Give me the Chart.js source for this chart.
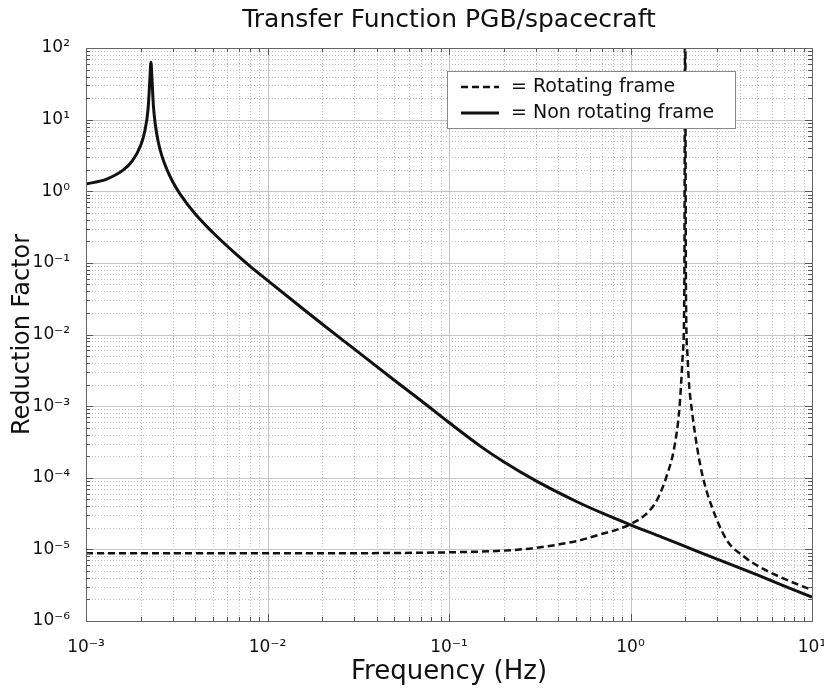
<!DOCTYPE html>
<html>
<head>
<meta charset="utf-8">
<script src="https://cdn.jsdelivr.net/npm/chart.js@4"></script>
<style>
  html, body { margin: 0; padding: 0; background: #fff; }
</style>
</head>
<body>
<canvas id="tfChart" width="824" height="689"></canvas>
<script>
// Non rotating frame (solid line)
const freqNonRot = [0.001, 0.0013, 0.0016, 0.0018, 0.002, 0.0021, 0.0022, 0.00225, 0.00228, 0.00231,
    0.00235, 0.0024, 0.0025, 0.0026, 0.0028, 0.003, 0.0033, 0.004, 0.005, 0.0065,
    0.008, 0.01, 0.015, 0.02, 0.03, 0.05, 0.07, 0.1, 0.15, 0.2,
    0.3, 0.5, 0.7, 1.0, 1.5, 2.0, 3.0, 5.0, 7.0, 10];
const valNonRot = [1.26, 1.48, 1.97, 2.65, 4.35, 6.6, 14.5, 38, 63, 37,
    16, 9.2, 4.9, 3.3, 1.97, 1.37, 0.91, 0.48, 0.265, 0.142,
    0.09, 0.057, 0.025, 0.014, 0.0063, 0.0023, 0.0012, 0.00059, 0.000272, 0.000167,
    0.000091, 0.000047, 0.000032, 0.000022, 0.0000147, 0.000011, 0.0000073, 0.0000044, 0.0000031, 0.00000215];

// Rotating frame (dashed line)
const freqRot = [0.001, 0.01, 0.05, 0.1, 0.2, 0.3, 0.5, 0.7, 0.85, 1.0,
    1.2, 1.4, 1.6, 1.74, 1.86, 1.94, 1.98, 2.0, 2.02, 2.06,
    2.1, 2.19, 2.35, 2.51, 2.8, 3.39, 4.2, 5.13, 7.0, 10];
const valRot = [8.8e-6, 8.8e-6, 8.9e-6, 9.1e-6, 9.6e-6, 1.05e-5, 1.3e-5, 1.65e-5, 1.9e-5, 2.25e-5,
    3.0e-5, 4.9e-5, 1.15e-4, 2.6e-4, 9.3e-4, 5.2e-3, 0.047, 500, 0.047, 5.2e-3,
    2.1e-3, 7.9e-4, 2.3e-4, 1.0e-4, 4.0e-5, 1.35e-5, 8.0e-6, 5.7e-6, 3.9e-6, 2.7e-6];

const seriesLabels = ['Rotating frame', 'Non rotating frame'];
const xDecades = [-3, -2, -1, 0, 1];
const yDecades = [-6, -5, -4, -3, -2, -1, 0, 1, 2];

const FONT = "'DejaVu Sans', sans-serif";
const SUP = { '-': '\u207B', '0': '\u2070', '1': '\u00B9', '2': '\u00B2', '3': '\u00B3',
    '4': '\u2074', '5': '\u2075', '6': '\u2076', '7': '\u2077', '8': '\u2078', '9': '\u2079' };
const pow10Label = v => '10' + String(Math.round(Math.log10(v))).split('').map(c => SUP[c]).join('');

// matlab style grid, box and inner tick marks + legend box
const matlabPlugin = {
    id: 'matlabPlugin',
    beforeDatasetsDraw(chart) {
        const { ctx, chartArea: a, scales: { x, y } } = chart;
        ctx.save();
        ctx.lineWidth = 1;
        const vline = px => { ctx.beginPath(); ctx.moveTo(px, a.top); ctx.lineTo(px, a.bottom); ctx.stroke(); };
        const hline = py => { ctx.beginPath(); ctx.moveTo(a.left, py); ctx.lineTo(a.right, py); ctx.stroke(); };
        // minor lines
        ctx.strokeStyle = '#bdbdbd';
        ctx.setLineDash([1, 2]);
        xDecades.slice(0, -1).forEach(e => {
            for (let m = 2; m <= 9; m++) vline(Math.round(x.getPixelForValue(m * Math.pow(10, e))) + 0.5);
        });
        yDecades.slice(0, -1).forEach(e => {
            for (let m = 2; m <= 9; m++) hline(Math.round(y.getPixelForValue(m * Math.pow(10, e))) + 0.5);
        });
        // decade lines
        ctx.setLineDash([]);
        ctx.strokeStyle = '#c4c4c4';
        xDecades.forEach(e => vline(Math.round(x.getPixelForValue(Math.pow(10, e))) + 0.5));
        yDecades.forEach(e => hline(Math.round(y.getPixelForValue(Math.pow(10, e))) + 0.5));
        ctx.restore();
    },
    afterDatasetsDraw(chart) {
        const { ctx, chartArea: a, scales: { x, y } } = chart;
        ctx.save();
        // tick marks inside the box
        ctx.strokeStyle = '#555';
        ctx.lineWidth = 1;
        const tick = (x1, y1, x2, y2) => { ctx.beginPath(); ctx.moveTo(x1, y1); ctx.lineTo(x2, y2); ctx.stroke(); };
        xDecades.forEach((e, i) => {
            for (let m = 1; m <= (i < xDecades.length - 1 ? 9 : 1); m++) {
                const px = Math.round(x.getPixelForValue(m * Math.pow(10, e))) + 0.5;
                const len = m === 1 ? 7 : 4;
                tick(px, a.bottom, px, a.bottom - len);
                tick(px, a.top, px, a.top + len);
            }
        });
        yDecades.forEach((e, i) => {
            for (let m = 1; m <= (i < yDecades.length - 1 ? 9 : 1); m++) {
                const py = Math.round(y.getPixelForValue(m * Math.pow(10, e))) + 0.5;
                const len = m === 1 ? 7 : 4;
                tick(a.left, py, a.left + len, py);
                tick(a.right, py, a.right - len, py);
            }
        });
        ctx.strokeStyle = '#666';
        ctx.strokeRect(Math.round(a.left) + 0.5, Math.round(a.top) + 0.5,
            Math.round(a.right - a.left), Math.round(a.bottom - a.top));

        // legend
        const lx = a.left + 361, ly = a.top + 23, lw = 288, lh = 57;
        ctx.fillStyle = '#fff';
        ctx.fillRect(lx, ly, lw, lh);
        ctx.strokeStyle = '#888';
        ctx.strokeRect(lx + 0.5, ly + 0.5, lw, lh);
        ctx.font = '19px ' + FONT;
        ctx.textBaseline = 'middle';
        ctx.fillStyle = '#111';
        chart.data.datasets.forEach((ds, i) => {
            const ry = ly + 16 + i * 26;
            ctx.strokeStyle = '#111';
            ctx.lineWidth = ds.borderWidth;
            ctx.setLineDash(ds.borderDash || []);
            tick(lx + 14, ry, lx + 52, ry);
            ctx.setLineDash([]);
            ctx.fillText('= ' + ds.label, lx + 64, ry);
        });
        ctx.restore();
    }
};

const ctx = document.getElementById('tfChart').getContext('2d');

new Chart(ctx, {
    type: 'line',
    data: {
        datasets: [{
            label: seriesLabels[0],
            data: freqRot.map((f, i) => ({ x: f, y: valRot[i] })),
            borderColor: '#111',
            borderWidth: 2.5,
            borderDash: [7, 4],
            pointRadius: 0,
            cubicInterpolationMode: 'monotone',
            fill: false
        }, {
            label: seriesLabels[1],
            data: freqNonRot.map((f, i) => ({ x: f, y: valNonRot[i] })),
            borderColor: '#111',
            borderWidth: 3,
            pointRadius: 0,
            cubicInterpolationMode: 'monotone',
            fill: false
        }]
    },
    options: {
        responsive: false,
        animation: false,
        devicePixelRatio: 1,
        layout: { padding: { right: 12 } },
        plugins: {
            legend: { display: false },
            tooltip: { enabled: false },
            title: {
                display: true,
                text: 'Transfer Function PGB/spacecraft',
                fullSize: false,
                color: '#111',
                font: { family: FONT, size: 25, weight: 'normal' },
                padding: { top: 5, bottom: 13 }
            }
        },
        scales: {
            x: {
                type: 'logarithmic',
                min: 1e-3,
                max: 10,
                grid: { display: false },
                border: { display: false },
                ticks: {
                    color: '#111',
                    font: { family: FONT, size: 17 },
                    padding: 8,
                    maxRotation: 0,
                    autoSkip: false,
                    callback: v => pow10Label(v)
                },
                title: {
                    display: true,
                    text: 'Frequency (Hz)',
                    color: '#111',
                    font: { family: FONT, size: 26 },
                    padding: { top: 0, bottom: 1 }
                },
                afterBuildTicks: s => { s.ticks = xDecades.map(e => ({ value: Math.pow(10, e) })); },
                afterFit: s => { s.height = 68; s.paddingLeft = 0; s.paddingRight = 0; }
            },
            y: {
                type: 'logarithmic',
                min: 1e-6,
                max: 100,
                grid: { display: false },
                border: { display: false },
                ticks: {
                    color: '#111',
                    font: { family: FONT, size: 17 },
                    padding: 8,
                    autoSkip: false,
                    callback: v => pow10Label(v)
                },
                title: {
                    display: true,
                    text: 'Reduction Factor',
                    color: '#111',
                    font: { family: FONT, size: 24 },
                    padding: { top: 8, bottom: 0 }
                },
                afterBuildTicks: s => { s.ticks = yDecades.map(e => ({ value: Math.pow(10, e) })); },
                afterFit: s => { s.width = 86; s.paddingTop = 0; s.paddingBottom = 0; }
            }
        }
    },
    plugins: [matlabPlugin]
});
</script>
</body>
</html>
